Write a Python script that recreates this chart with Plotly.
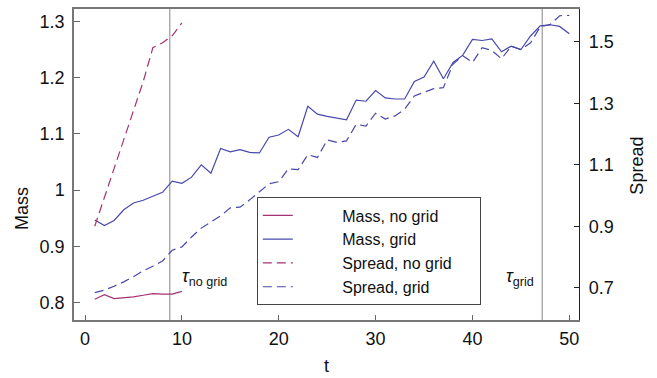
import plotly.graph_objects as go

# ---- data ----
t_no_grid = list(range(1, 11))
t_grid = list(range(1, 51))

mass_no_grid = [0.806, 0.814, 0.807, 0.808, 0.810, 0.813, 0.816, 0.815, 0.815, 0.820]
spread_no_grid = [0.900, 0.994, 1.085, 1.175, 1.270, 1.370, 1.481, 1.497, 1.520, 1.562]

mass_grid = [0.947, 0.937, 0.946, 0.965, 0.977, 0.982, 0.989, 0.996, 1.016, 1.012,
             1.023, 1.045, 1.030, 1.074, 1.068, 1.072, 1.067, 1.066, 1.094, 1.098,
             1.108, 1.095, 1.149, 1.135, 1.131, 1.128, 1.125, 1.160, 1.158, 1.177,
             1.164, 1.162, 1.162, 1.193, 1.201, 1.229, 1.198, 1.227, 1.240, 1.268,
             1.266, 1.269, 1.246, 1.256, 1.250, 1.274, 1.292, 1.294, 1.291, 1.278]

spread_grid = [0.684, 0.692, 0.705, 0.719, 0.736, 0.755, 0.770, 0.787, 0.822, 0.833,
               0.865, 0.894, 0.914, 0.934, 0.960, 0.962, 0.986, 1.011, 1.038, 1.045,
               1.087, 1.084, 1.133, 1.124, 1.181, 1.173, 1.178, 1.232, 1.226, 1.268,
               1.249, 1.259, 1.281, 1.324, 1.336, 1.348, 1.351, 1.428, 1.455, 1.433,
               1.481, 1.472, 1.445, 1.486, 1.475, 1.497, 1.549, 1.556, 1.585, 1.586]

tau_values = [8.75, 47.2]
tau_labels = ["<i>τ</i><sub>no grid</sub>", "<i>τ</i><sub>grid</sub>"]

x_ticks = [0, 10, 20, 30, 40, 50]
mass_ticks = [0.8, 0.9, 1.0, 1.1, 1.2, 1.3]
mass_ticktext = ["0.8", "0.9", "1", "1.1", "1.2", "1.3"]
spread_ticks = [0.7, 0.9, 1.1, 1.3, 1.5]
spread_ticktext = ["0.7", "0.9", "1.1", "1.3", "1.5"]

series_names = ["Mass, no grid", "Mass, grid", "Spread, no grid", "Spread, grid"]

# ---- style ----
MAG = "rgb(165,50,115)"
BLU = "rgb(72,72,172)"
FONT = "Liberation Sans, Arial, sans-serif"
FS = 18
LFS = 16
PAD = "\u00a0" * 10
TAIL = "\u00a0" * 5

fig = go.Figure()
fig.add_trace(go.Scatter(x=t_no_grid, y=mass_no_grid, mode="lines", name=PAD + series_names[0],
                         line=dict(color=MAG, width=1.2)))
fig.add_trace(go.Scatter(x=t_grid, y=mass_grid, mode="lines", name=PAD + series_names[1],
                         line=dict(color=BLU, width=1.2)))
fig.add_trace(go.Scatter(x=t_no_grid, y=spread_no_grid, mode="lines",
                         name=PAD + series_names[2] + TAIL,
                         line=dict(color=MAG, width=1.2, dash="9px,5px"), yaxis="y2"))
fig.add_trace(go.Scatter(x=t_grid, y=spread_grid, mode="lines", name=PAD + series_names[3],
                         line=dict(color=BLU, width=1.2, dash="9px,5px"), yaxis="y2"))

for tv in tau_values:
    fig.add_shape(type="line", xref="x", yref="paper", x0=tv, x1=tv, y0=0, y1=1,
                  line=dict(color="#999999", width=1.2), layer="below")

label_offsets = [1.06, -3.9]
for tv, lab, off in zip(tau_values, tau_labels, label_offsets):
    fig.add_annotation(x=tv + off, y=0.138, xref="x", yref="paper", text=lab,
                       showarrow=False, xanchor="left", yanchor="middle",
                       font=dict(family=FONT, size=FS, color="#111"))

fig.add_annotation(x=-0.103, y=0.36, xref="paper", yref="paper", text="Mass", textangle=-90,
                   showarrow=False, xanchor="center", yanchor="middle",
                   font=dict(family=FONT, size=FS, color="#111"))
fig.add_annotation(x=1.114, y=0.495, xref="paper", yref="paper", text="Spread", textangle=-90,
                   showarrow=False, xanchor="center", yanchor="middle",
                   font=dict(family=FONT, size=FS, color="#111"))
fig.add_annotation(x=0.5, y=-0.147, xref="paper", yref="paper", text="t",
                   showarrow=False, xanchor="center", yanchor="middle",
                   font=dict(family=FONT, size=FS, color="#111"))

fig.update_layout(
    width=657, height=378,
    margin=dict(l=74, r=78, t=7, b=58),
    paper_bgcolor="white", plot_bgcolor="white",
    font=dict(family=FONT, size=FS, color="#111"),
    showlegend=True,
    legend=dict(x=0.362, y=0.394, xanchor="left", yanchor="top",
                bgcolor="white", bordercolor="#444", borderwidth=1,
                font=dict(family=FONT, size=LFS, color="#111"),
                tracegroupgap=0, itemwidth=30),
    xaxis=dict(range=[-1.14, 51.0], tickvals=x_ticks, ticks="inside", ticklen=5,
               tickcolor="#666", showline=True, linecolor="#777", linewidth=1.5,
               mirror=True, showgrid=False, zeroline=False, ticklabelstandoff=2),
    yaxis=dict(range=[0.769, 1.322], tickvals=mass_ticks, ticktext=mass_ticktext,
               ticks="inside", ticklen=6, tickcolor="#666", showline=True,
               linecolor="#777", linewidth=1.5, showgrid=False, zeroline=False,
               ticklabelstandoff=4),
    yaxis2=dict(range=[0.595, 1.607], tickvals=spread_ticks, ticktext=spread_ticktext,
                overlaying="y", side="right", ticks="inside", ticklen=5, tickcolor="#222",
                showline=True, linecolor="#222", linewidth=1.2, showgrid=False,
                zeroline=False, ticklabelstandoff=5),
)

fig.write_html("out.html")
